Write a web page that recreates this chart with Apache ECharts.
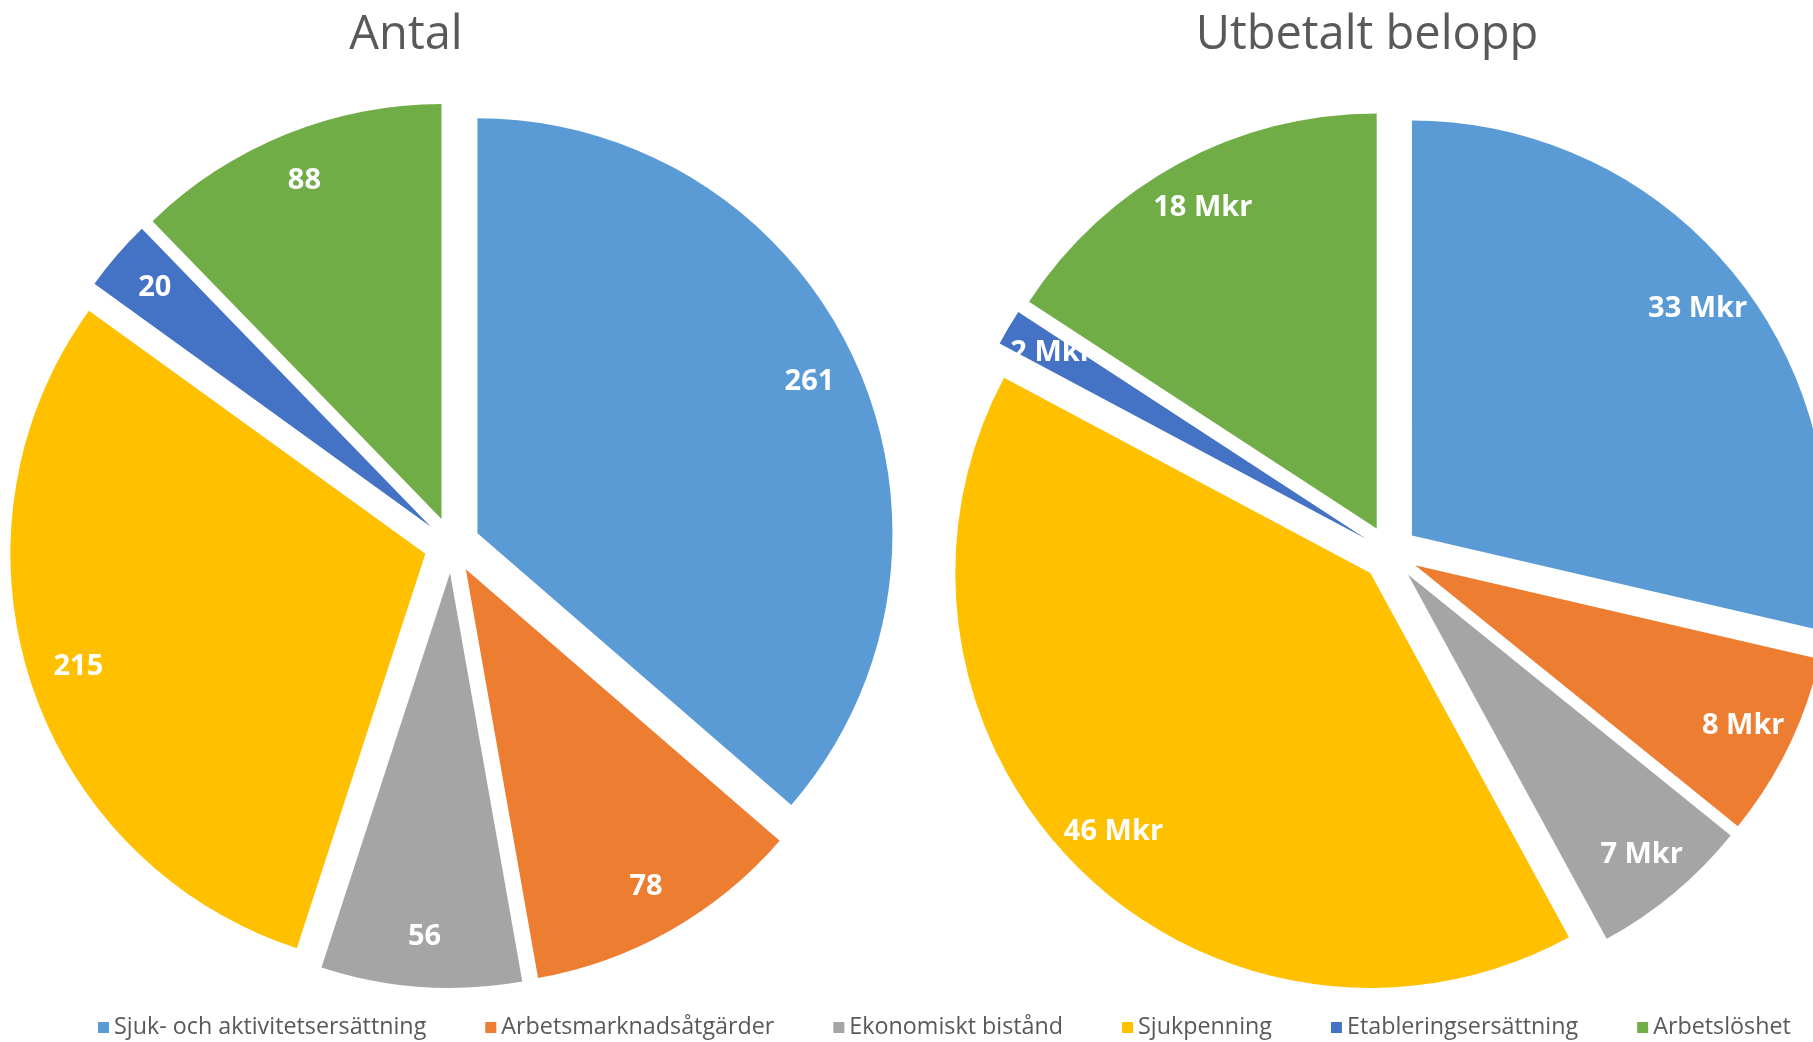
<!DOCTYPE html>
<html>
<head>
<meta charset="utf-8">
<script src="https://cdn.jsdelivr.net/npm/echarts@6/dist/echarts.min.js"></script>
<style>
  html, body { margin: 0; padding: 0; background: #fff; }
  #main { width: 1813px; height: 1042px; }
</style>
</head>
<body>
<div id="main"></div>
<script>
var categories = [
    'Sjuk- och aktivitetsersättning',
    'Arbetsmarknadsåtgärder',
    'Ekonomiskt bistånd',
    'Sjukpenning',
    'Etableringsersättning',
    'Arbetslöshet'
];
// Antal (count)
var antal = [261, 78, 56, 215, 20, 88];
// Utbetalt belopp (Mkr), labels shown rounded
var belopp = [32.6, 8.2, 7.1, 46.4, 1.6, 18.0];
var colors = ['#5B9BD5', '#ED7D31', '#A5A5A5', '#FFC000', '#4472C4', '#70AD47'];

var font = 'Open Sans';
var R = 415;
var explode = 28;

function pieData(values) {
    return categories.map(function (name, i) {
        return { name: name, value: values[i], selected: true };
    });
}

// slice shapes
function shapeSeries(values, center) {
    return {
        type: 'pie',
        center: center,
        radius: [0, R],
        startAngle: 90,
        clockwise: true,
        selectedMode: 'multiple',
        selectedOffset: explode,
        label: { show: false },
        labelLine: { show: false },
        emphasis: { scale: false },
        data: pieData(values)
    };
}

// transparent ring carrying the labels, so they sit near the rim like Excel
function labelSeries(values, center, fmt) {
    return {
        type: 'pie',
        center: center,
        radius: [309, R],
        startAngle: 90,
        clockwise: true,
        selectedMode: 'multiple',
        selectedOffset: explode,
        itemStyle: { color: 'rgba(255,255,255,0)' },
        label: {
            show: true,
            position: 'inside',
            formatter: fmt,
            offset: [0, 8],
            color: '#fff',
            fontFamily: font,
            fontWeight: 'bold',
            fontSize: 29
        },
        labelLine: { show: false },
        emphasis: { scale: false },
        data: pieData(values)
    };
}

var chart = echarts.init(document.getElementById('main'));
chart.setOption({
    color: colors,
    animation: false,
    title: [{
        text: 'Antal',
        left: 406,
        top: 12,
        textAlign: 'center',
        padding: 0,
        textStyle: { fontFamily: font, fontSize: 47, fontWeight: 'normal', color: '#595959' }
    }, {
        text: 'Utbetalt belopp',
        left: 1367,
        top: 12,
        textAlign: 'center',
        padding: 0,
        textStyle: { fontFamily: font, fontSize: 47, fontWeight: 'normal', color: '#595959' }
    }],
    legend: {
        data: categories,
        left: 98,
        top: 1016,
        width: 1715,
        icon: 'rect',
        itemWidth: 11,
        itemHeight: 11,
        itemGap: 59,
        padding: 0,
        selectedMode: false,
        textStyle: { fontFamily: font, fontSize: 23.3, color: '#595959' }
    },
    series: [
        shapeSeries(antal, [452, 545]),
        shapeSeries(belopp, [1390, 553]),
        labelSeries(antal, [452, 545], '{c}'),
        labelSeries(belopp, [1390, 553], function (p) {
            return Math.round(p.value) + ' Mkr';
        })
    ]
});
</script>
</body>
</html>
